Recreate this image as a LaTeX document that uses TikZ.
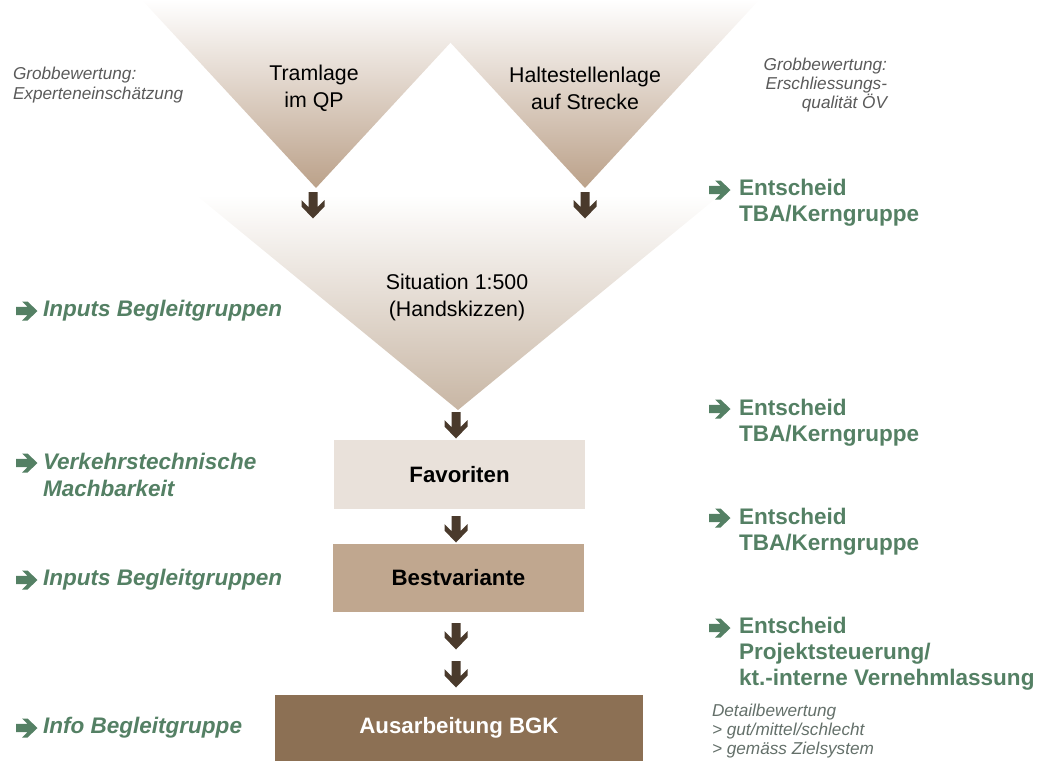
\documentclass[tikz,border=0pt]{standalone}
\usepackage{fontspec}
\setmainfont{Liberation Sans}
\definecolor{tansmall}{RGB}{187,161,137}
\definecolor{tanbig}{RGB}{200,182,164}
\definecolor{arrowbrown}{RGB}{74,58,44}
\definecolor{favfill}{RGB}{233,225,218}
\definecolor{bestfill}{RGB}{192,167,143}
\definecolor{bgkfill}{RGB}{140,112,84}
\definecolor{grn}{RGB}{84,128,100}
\definecolor{greytxt}{RGB}{90,90,90}
\definecolor{greygrn}{RGB}{100,112,106}
\begin{document}
\begin{tikzpicture}[x=0.75pt,y=-0.75pt,
  darrow/.pic={\fill[arrowbrown] (-4.5,0)--(4.5,0)--(4.5,15)--(11.5,8)--(11.5,14.5)--(0,26.5)--(-11.5,14.5)--(-11.5,8)--(-4.5,15)--cycle;},
  rarrow/.pic={\fill[grn] (0,-4.2)--(11.5,-4.2)--(6,-9.5)--(11.5,-9.5)--(21.5,0)--(11.5,9.5)--(6,9.5)--(11.5,4.2)--(0,4.2)--cycle;},
  txt/.style={inner sep=0pt, outer sep=0pt},
  bigtxt/.style={txt, font=\fontsize{16}{20.25}\selectfont, align=center},
  grnR/.style={txt, text=grn, font=\fontsize{16.9}{19.6}\selectfont\bfseries, align=left, anchor=west},
  grnL/.style={txt, text=grn, font=\fontsize{16.9}{19.6}\selectfont\bfseries\itshape, align=left, anchor=west},
  smalltxt/.style={txt, text=greytxt, font=\fontsize{12.9}{14.5}\selectfont\itshape},
  box/.style={inner sep=0pt, outer sep=0pt, minimum width=188.25pt, font=\fontsize{16.7}{19.5}\selectfont\bfseries}
]
\useasboundingbox (0,0) rectangle (1049,761);
% funnels
\shade[top color=white, bottom color=tanbig] (196,195) -- (720,195) -- (458,410) -- cycle;
\shade[top color=white, bottom color=tansmall] (142,0) -- (490,0) -- (316,188) -- cycle;
\shade[top color=white, bottom color=tansmall] (411,0) -- (759,0) -- (585,188) -- cycle;
% funnel texts
\node[bigtxt] (tram) at (314,88) {Tramlage\\im QP};
\node[bigtxt] (halt) at (585,88) {Haltestellenlage\\auf Strecke};
\node[bigtxt] (sit) at (457,297) {Situation 1:500\\(Handskizzen)};
% boxes
\node[box, fill=favfill, minimum height=51.75pt] (fav) at (459.5,474.5) {Favoriten};
\node[box, fill=bestfill, minimum height=51pt] (best) at (458.5,578) {Bestvariante};
\node[box, fill=bgkfill, text=white, minimum width=276pt, minimum height=49.5pt] (bgk) at (459,728) {Ausarbeitung BGK};
% down arrows
\pic at (313,192) {darrow};
\pic at (585,192) {darrow};
\pic at (456,412) {darrow};
\pic at (456,516) {darrow};
\pic at (456,623) {darrow};
\pic at (456,661) {darrow};
% grey notes
\node[smalltxt, anchor=west, align=left] (gbl) at (13,85) {Grobbewertung:\\Experteneinschätzung};
\node[smalltxt, anchor=east, align=right] (gbr) at (887,85) {Grobbewertung:\\Erschliessungs-\\qualität ÖV};
\node[smalltxt, text=greygrn, anchor=west, align=left] (detail) at (712,731) {Detailbewertung\\> gut/mittel/schlecht\\> gemäss Zielsystem};
% right green
\pic at (709,190) {rarrow};
\node[grnR] (r1) at (739,203) {Entscheid\\TBA/Kerngruppe};
\pic at (709,409) {rarrow};
\node[grnR] (r2) at (739,422.5) {Entscheid\\TBA/Kerngruppe};
\pic at (709,518) {rarrow};
\node[grnR] (r3) at (739,531.5) {Entscheid\\TBA/Kerngruppe};
\pic at (709,628) {rarrow};
\node[grnR] (r4) at (739,654) {Entscheid\\Projektsteuerung/\\kt.-interne Vernehmlassung};
% left green
\pic at (16,311) {rarrow};
\node[grnL] (l1) at (43,311) {Inputs Begleitgruppen};
\pic at (16,463) {rarrow};
\node[grnL] (l2) at (43,475) {Verkehrstechnische\\Machbarkeit};
\pic at (16,580) {rarrow};
\node[grnL] (l3) at (43,580) {Inputs Begleitgruppen};
\pic at (16,728) {rarrow};
\node[grnL] (l4) at (43,728) {Info Begleitgruppe};
\end{tikzpicture}
\end{document}
